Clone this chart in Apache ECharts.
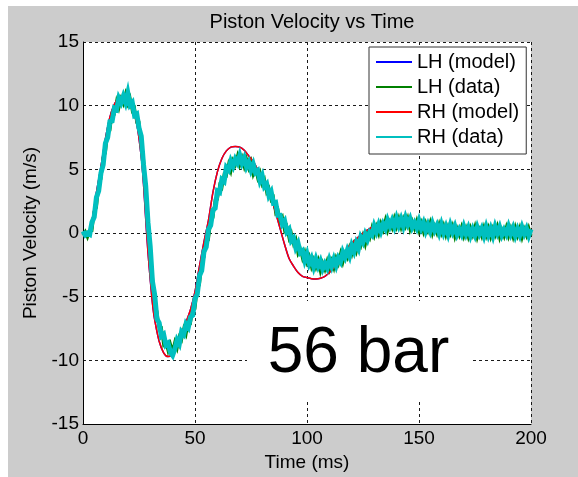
<!DOCTYPE html>
<html>
<head>
<meta charset="utf-8">
<script src="https://cdn.jsdelivr.net/npm/echarts@6/dist/echarts.min.js"></script>
<style>
html,body{margin:0;padding:0;background:#fff;}
#c{width:578px;height:477px;}
</style>
</head>
<body>
<div id="c"></div>
<script>
// ---- data ----
var xTicks = [0, 50, 100, 150, 200];
var yTicks = [-15, -10, -5, 0, 5, 10, 15];
var seriesNames = ['LH (model)', 'LH (data)', 'RH (model)', 'RH (data)'];

// model curve (time in ms, velocity in m/s)
var modelT = [0,2,4,6,8,10,12,14,16,18,20,22,24,26,27,28,29,30,31,32,34,36,38,40,42,44,46,48,50,52,54,56,58,60,62,64,66,68,70,72,74,76,78,80,82,84,86,88,90,92,94,96,98,100,102,104,106,108,110,112,114,116,118,120,122,124,126,128,130,134,138,142,146,150,155,160,170,180,190,200];
var lhModelV = [0,0,1.0,3.2,5.2,7.4,9.1,10.1,10.6,10.8,10.6,9.85,8.6,6.0,3.9,1.1,-1.5,-3.6,-5.5,-6.8,-8.5,-9.4,-9.7,-9.5,-8.85,-7.95,-7.0,-6.0,-4.6,-2.6,-0.7,1.0,3.2,4.8,5.85,6.45,6.75,6.8,6.75,6.5,6.05,5.6,5.0,4.45,3.8,2.8,1.6,0.35,-0.9,-2.0,-2.6,-3.1,-3.4,-3.5,-3.58,-3.6,-3.55,-3.4,-3.1,-2.7,-2.2,-1.7,-1.2,-0.8,-0.45,-0.15,0.13,0.35,0.55,0.8,0.95,1.0,0.9,0.75,0.55,0.4,0.2,0.1,0.1,0.1];
var rhModelV = [0,0,1.0,3.2,5.2,7.4,9.1,10.1,10.6,10.8,10.6,9.85,8.6,6.0,3.9,1.1,-1.5,-3.6,-5.5,-6.8,-8.5,-9.4,-9.7,-9.5,-8.85,-7.95,-7.0,-6.0,-4.6,-2.6,-0.7,1.0,3.2,4.8,5.85,6.45,6.75,6.8,6.75,6.5,6.05,5.6,5.0,4.45,3.8,2.8,1.6,0.35,-0.9,-2.0,-2.6,-3.1,-3.4,-3.5,-3.58,-3.6,-3.55,-3.4,-3.1,-2.7,-2.2,-1.7,-1.2,-0.8,-0.45,-0.15,0.13,0.35,0.55,0.8,0.95,1.0,0.9,0.75,0.55,0.4,0.2,0.1,0.1,0.1];

// measured data, one sample per ms from 0 to 200 ms
var dataStartMs = 0;
var dataStepMs = 1;
var lhDataV = [
 -0.17,0.12,-0.32,0.2,0.2,1.7,2.0,3.75,4.25,5.9,
 6.3,7.9,8.05,9.4,9.35,10.35,9.8,10.55,10.15,10.9,
 10.15,10.6,9.6,9.8,8.7,8.7,6.8,5.85,3.25,1.4,
 -1.8,-3.4,-5.55,-6.15,-7.5,-7.45,-8.75,-8.5,-9.25,-8.7,
 -9.3,-8.55,-9.05,-8.15,-8.4,-7.5,-7.95,-6.95,-7.05,-5.9,
 -5.9,-4.4,-4.05,-2.35,-1.9,-0.45,-0.5,0.9,1.2,2.6,
 2.65,3.75,3.55,4.6,4.5,5.4,4.85,5.7,5.35,6.05,
 5.35,5.9,5.2,5.8,5.1,5.6,4.6,5.05,4.3,4.75,
 3.85,4.2,3.2,3.5,2.6,2.8,1.6,1.85,0.95,1.25,
 0.2,0.5,-0.4,0.0,-0.85,-0.5,-1.6,-1.25,-2.0,-1.5,
 -2.3,-1.85,-2.65,-2.1,-2.7,-2.15,-3.0,-2.35,-2.85,-2.2,
 -2.85,-2.2,-2.75,-1.95,-2.4,-1.6,-2.3,-1.6,-1.95,-1.15,
 -1.65,-0.9,-1.45,-0.65,-1.0,-0.25,-0.9,-0.05,-0.4,0.4,
 -0.2,0.5,-0.05,0.75,0.25,1.0,0.2,0.85,0.4,1.15,
 0.5,1.15,0.45,1.1,0.55,1.15,0.3,0.9,0.35,0.95,
 0.2,0.78,0.1,0.77,0.2,0.82,-0.05,0.52,0.0,0.68,
 0.0,0.58,-0.15,0.48,-0.04,0.54,-0.28,0.35,-0.17,0.46,
 -0.25,0.35,-0.3,0.4,-0.15,0.5,-0.35,0.25,-0.25,0.45,
 -0.2,0.4,-0.3,0.35,-0.15,0.5,-0.35,0.25,-0.25,0.45,
 -0.25,0.35,-0.3,0.45,-0.2,0.4,-0.35,0.3,-0.2,0.4,
 -0.2];
var rhDataV = [
 0.15,-0.15,0.0,-0.1,0.85,1.25,2.8,3.3,4.7,5.35,
 7.05,7.5,8.75,8.8,9.8,9.7,10.6,10.25,10.75,10.25,
 11.0,10.05,10.25,9.25,9.35,8.25,7.6,5.4,3.7,0.85,
 -1.05,-3.8,-4.85,-6.75,-7.05,-8.1,-7.95,-8.8,-8.65,-9.35,
 -9.6,-9.1,-8.4,-8.7,-7.75,-7.95,-7.15,-7.4,-6.6,-6.45,
 -5.15,-4.8,-3.35,-2.95,-1.45,-1.1,0.3,0.6,1.8,1.95,
 3.3,3.2,4.2,4.05,5.15,4.95,5.65,5.25,5.8,5.5,
 6.1,5.5,5.9,5.2,5.55,4.95,5.4,4.75,4.9,4.1,
 4.5,3.65,3.85,2.95,3.25,2.35,2.4,1.4,1.4,0.7,
 0.95,0.1,0.3,-0.6,-0.4,-1.15,-0.8,-1.55,-1.4,-2.15,
 -1.65,-2.4,-2.0,-2.65,-2.05,-2.6,-2.2,-2.8,-2.4,-2.75,
 -2.1,-2.6,-2.05,-2.55,-1.95,-2.25,-1.5,-1.9,-1.35,-1.8,
 -1.0,-1.45,-0.8,-1.2,-0.35,-0.7,-0.1,-0.5,0.05,-0.15,
 0.55,0.1,0.65,0.15,0.7,0.35,1.0,0.55,1.0,0.5,
 1.15,0.6,1.1,0.55,1.2,0.7,1.1,0.45,0.8,0.4,
 0.95,0.38,0.8,0.17,0.65,0.17,0.75,0.22,0.6,0.03,
 0.65,0.03,0.5,-0.07,0.61,0.09,0.52,-0.1,0.28,-0.09,
 0.5,-0.05,0.4,-0.2,0.3,-0.15,0.45,-0.05,0.35,-0.2,
 0.45,-0.15,0.35,-0.2,0.5,0.0,0.45,-0.15,0.25,-0.1,
 0.5,-0.05,0.4,-0.2,0.3,-0.15,0.45,-0.05,0.35,-0.2,
 0.3];

var annotationText = '56 bar';
// ------------------------------------------------

function pairsFromT(tArr, vArr) {
  return vArr.map(function (v, i) { return [tArr[i], v]; });
}
function pairsFromStep(vArr) {
  return vArr.map(function (v, i) { return [dataStartMs + i * dataStepMs, v]; });
}

var FONT = '"Liberation Sans", Arial, Helvetica, sans-serif';
var gridLine = { show: true, lineStyle: { color: '#1a1a1a', width: 1, type: [3, 3] } };

var chart = echarts.init(document.getElementById('c'), null, { renderer: 'canvas' });
chart.setOption({
  animation: false,
  backgroundColor: '#cccccc',
  textStyle: { fontFamily: FONT },
  title: {
    text: 'Piston Velocity vs Time',
    left: 307, top: 7, textAlign: 'center',
    textStyle: { fontFamily: FONT, fontSize: 20, fontWeight: 'normal', color: '#000' }
  },
  grid: {
    left: 83, right: 47, top: 42, bottom: 48,
    show: true, backgroundColor: '#ffffff', borderWidth: 0
  },
  xAxis: {
    type: 'value', min: xTicks[0], max: xTicks[xTicks.length - 1], interval: 50,
    name: 'Time (ms)', nameLocation: 'middle', nameGap: 26,
    nameTextStyle: { fontFamily: FONT, fontSize: 19, color: '#000' },
    axisLine: { show: true, onZero: false, lineStyle: { color: '#000', width: 1 } },
    axisTick: { show: false },
    axisLabel: { fontFamily: FONT, fontSize: 19, color: '#000', margin: 5 },
    splitLine: gridLine
  },
  yAxis: {
    type: 'value', min: yTicks[0], max: yTicks[yTicks.length - 1], interval: 5,
    name: 'Piston Velocity (m/s)', nameLocation: 'middle', nameGap: 30,
    nameTextStyle: { fontFamily: FONT, fontSize: 19, color: '#000' },
    axisLine: { show: true, onZero: false, lineStyle: { color: '#000', width: 1 } },
    axisTick: { show: false },
    axisLabel: { fontFamily: FONT, fontSize: 19, color: '#000', margin: 4 },
    splitLine: gridLine
  },
  legend: {
    orient: 'vertical', left: 369, top: 47,
    padding: [5, 7, 7, 7],
    itemWidth: 36, itemHeight: 20, itemGap: 5,
    icon: 'path://M0,0H36V2H0Z',
    backgroundColor: '#ffffff', borderColor: '#333333', borderWidth: 1, borderRadius: 0,
    textStyle: { fontFamily: FONT, fontSize: 20, color: '#000', lineHeight: 20 },
    data: seriesNames
  },
  series: [
    { name: seriesNames[0], type: 'line', data: pairsFromT(modelT, lhModelV), symbol: 'none', smooth: 0.3,
      lineStyle: { color: '#0000ff', width: 1.5 }, itemStyle: { color: '#0000ff' } },
    { name: seriesNames[1], type: 'line', data: pairsFromStep(lhDataV), symbol: 'none',
      lineStyle: { color: '#008000', width: 3, join: 'miter', miterLimit: 6 }, itemStyle: { color: '#008000' } },
    { name: seriesNames[2], type: 'line', data: pairsFromT(modelT, rhModelV), symbol: 'none', smooth: 0.3,
      lineStyle: { color: '#ff0000', width: 1.5 }, itemStyle: { color: '#ff0000' } },
    { name: seriesNames[3], type: 'line', data: pairsFromStep(rhDataV), symbol: 'none',
      lineStyle: { color: '#00bfbf', width: 5, join: 'miter' }, itemStyle: { color: '#00bfbf' } }
  ],
  graphic: [
    { type: 'rect', z: 100, shape: { x: 0, y: 0, width: 578, height: 6 }, style: { fill: '#ffffff' } },
    { type: 'rect', z: 100, shape: { x: 0, y: 0, width: 8, height: 477 }, style: { fill: '#ffffff' } },
    { type: 'rect', z: 100, shape: { x: 247, y: 301, width: 225, height: 100 }, style: { fill: '#ffffff' } },
    { type: 'text', z: 101, x: 358.5, y: 354,
      style: { text: annotationText, fontFamily: FONT, fontSize: 64, fill: '#000', align: 'center', verticalAlign: 'middle' } }
  ]
});
</script>
</body>
</html>
